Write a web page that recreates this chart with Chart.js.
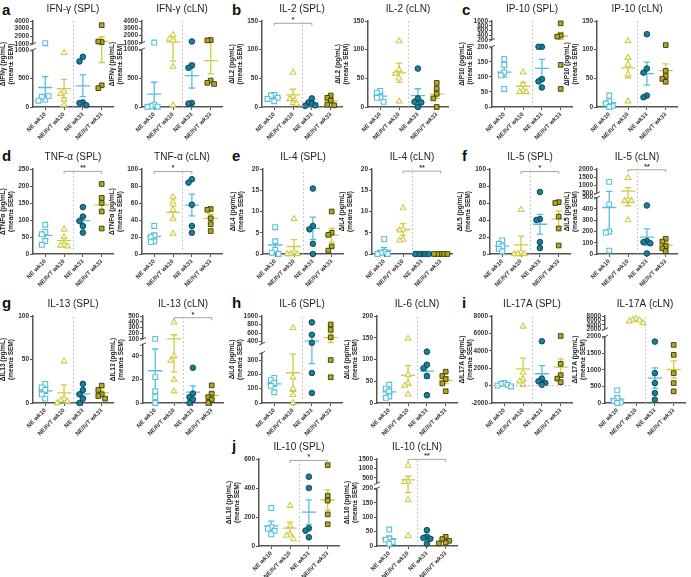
<!DOCTYPE html>
<html>
<head>
<meta charset="utf-8">
<script src="https://cdn.jsdelivr.net/npm/chart.js@4.4.1/dist/chart.umd.min.js"></script>
<style>
  body { margin: 0; background: #fff; width: 691px; height: 577px; position: relative; overflow: hidden;
         font-family: "Liberation Sans", Arial, sans-serif; }
  canvas { position: absolute; }
  .lbl { position: absolute; font-weight: bold; font-size: 15px; color: #111; line-height: 1; }
</style>
</head>
<body>
<div class="lbl" style="left:2px;top:2px">a</div>
<div class="lbl" style="left:232px;top:2px">b</div>
<div class="lbl" style="left:462px;top:2px">c</div>
<div class="lbl" style="left:2px;top:148px">d</div>
<div class="lbl" style="left:232px;top:148px">e</div>
<div class="lbl" style="left:462px;top:148px">f</div>
<div class="lbl" style="left:2px;top:295px">g</div>
<div class="lbl" style="left:232px;top:295px">h</div>
<div class="lbl" style="left:462px;top:295px">i</div>
<div class="lbl" style="left:232px;top:438px">j</div>
<script>
const groups = ["NE wk10", "NE/IVT wk10", "NE wk33", "NE/IVT wk33"];

// values read per group: [NE wk10, NE/IVT wk10, NE wk33, NE/IVT wk33]
const ifngSPL = [[1100, 130, 180, 190, 110], [950, 270, 230, 130, 40], [880, 800, 80, 70, 30], [3450, 1250, 1320, 380, 330]];
const ifngCLN = [[1050, 40, 15, 5, 0], [2100, 1600, 1350, 700, 30], [1200, 720, 680, 70, 60], [1400, 1350, 460, 420, 400]];
const il2SPL = [[21, 20, 16, 14, 10], [60, 18, 14, 7, 6], [15, 8, 6, 3, 2], [20, 16, 11, 4, 3]];
const il2CLN = [[28, 25, 17, 16, 9], [115, 65, 58, 50, 10], [67, 15, 9, 8, 0], [42, 32, 23, 15, 0]];
const ip10SPL = [[160, 140, 115, 105, 60], [115, 75, 55, 50, 50], [200, 200, 92, 85, 65], [900, 390, 340, 140, 60]];
const ip10CLN = [[20, 10, 6, 2, 0], [115, 86, 74, 57, 10], [127, 67, 60, 20, 17], [108, 63, 54, 49, 44]];
const tnfSPL = [[86, 65, 58, 38, 27], [73, 50, 27, 25, 23], [138, 110, 97, 82, 63], [206, 165, 150, 125, 75]];
const tnfCLN = [[33, 22, 20, 15, 14], [67, 61, 52, 41, 24], [88, 84, 58, 33, 25], [53, 52, 42, 35, 27]];
const il4SPL = [[6.3, 3, 1, 0.3, 0], [8.3, 0.5, 0, 0, 0], [15.4, 6.6, 5.8, 2.4, 0], [10, 5, 4.5, 1.8, 0.8]];
const il4CLN = [[3.5, 0.5, 0.3, 0, 0], [10.8, 5.8, 5.6, 3.4, 3.2], [0, 0, 0, 0, 0], [0, 0, 0, 0, 0]];
const il5SPL = [[16, 12, 9, 6, 3], [52, 2, 0, 0, 0], [73, 41, 40, 14, 7], [61, 60, 44, 30, 10]];
const il5CLN = [[1200, 440, 200, 190, 30], [1450, 480, 470, 470, 300], [430, 115, 105, 95, 5], [135, 110, 70, 50, 25]];
const il13SPL = [[22, 18, 15, 10, 5], [48, 5, 3, 2, 0], [22, 15, 10, 5, 0], [20, 15, 10, 8, 5]];
const il13CLN = [[100, 22, 10, 5, 0], [390, 40, 36, 20, 10], [30, 8, 5, 3, 0], [15, 8, 5, 3, 0]];
const il6SPL = [[175, 160, 140, 120, 75], [720, 180, 100, 57, 0], [850, 560, 370, 210, 70], [800, 680, 500, 300, 180]];
const il6CLN = [[42, 33, 27, 15, 12], [148, 65, 45, 40, 20], [118, 88, 80, 62, 18], [72, 62, 55, 45, 27]];
const il17SPL = [[300, 200, 100, 0, -100], [6800, 1500, 700, 500, 100], [5100, 800, 500, 300, 100], [5700, 2500, 1200, 800, 400]];
const il17CLN = [[380, 150, 60, 20, 0], [6800, 6300, 6000, 5600, 4800], [1850, 900, 600, 300, 100], [1750, 1450, 900, 600, 350]];
const il10SPL = [[262, 130, 120, 105, 80], [278, 140, 80, 72, 48], [478, 400, 122, 106, 60], [558, 347, 313, 218, 150]];
const il10CLN = [[57, 26, 22, 14, 8], [1150, 290, 280, 160, 35], [55, 32, 28, 25, 8], [32, 24, 18, 12, 9]];

// y tick labels (lower and upper part for broken axes)
const ticksIFNlow = [0, 500, 1000], ticksIFNhigh = [1000, 2000, 3000, 4000];
const ticksIP10low = [0, 50, 100, 150, 200], ticksIP10high = [200, 400, 600, 800, 1000];
const ticksIL5low = [0, 100, 200, 300, 400, 500], ticksIL5high = [500, 1000, 1500, 2000];
const ticksIL13low = [0, 20, 40], ticksIL13high = [100, 200, 300, 400, 500];
const ticksIL6low = [0, 100, 200, 300], ticksIL6high = [400, 600, 800, 1000];
const ticksIL17low = [0, 500, 1000, 1500, 2000], ticksIL17high = [2000, 4000, 6000, 8000];
const ticksIL10low = [0, 50, 100, 150, 200], ticksIL10high = [500, 1000, 1500];

const rows = [[21, 107], [169, 254], [316, 403], [459, 546]];
const colors = { line: ["#55c0dc", "#cfcd45", "#55c0dc", "#cfcd45"],
  fill: ["#ffffff", "#ffffff", "#16819c", "#b3a91c"],
  border: ["#55c0dc", "#cfcd45", "#0c3a48", "#3a360a"],
  style: ["rect", "triangle", "circle", "rect"], radius: [3.4, 3.3, 2.8, 3.3] };

function lin(min, max) { return [{ from: min, to: max, lo: 0, hi: 1 }]; }
function steps(min, max, st) { const t = []; for (let v = min; v <= max + 1e-9; v += st) t.push(v); return t; }

const panels = [
  { t: "IFN-γ (SPL)", y: "ΔIFNγ (pg/mL)", d: ifngSPL, r: 0, x: 33, segs: [{ from: 0, to: 1000, lo: 0, hi: 0.663 }, { from: 1000, to: 4000, lo: 0.733, hi: 1 }], lo: ticksIFNlow, hi: ticksIFNhigh },
  { t: "IFN-γ (cLN)", y: "ΔIFNγ (pg/mL)", d: ifngCLN, r: 0, x: 142, segs: [{ from: 0, to: 1000, lo: 0, hi: 0.67 }, { from: 1000, to: 4000, lo: 0.745, hi: 1 }], lo: ticksIFNlow, hi: ticksIFNhigh },
  { t: "IL-2 (SPL)", y: "ΔIL2 (pg/mL)", d: il2SPL, r: 0, x: 262, segs: lin(0, 150), lo: steps(0, 150, 50), sig: [1, 3, 146, "*"], zero: true },
  { t: "IL-2 (cLN)", y: "ΔIL2 (pg/mL)", d: il2CLN, r: 0, x: 368, segs: lin(0, 150), lo: steps(0, 150, 50) },
  { t: "IP-10 (SPL)", y: "ΔIP10 (pg/mL)", d: ip10SPL, r: 0, x: 492, segs: [{ from: 0, to: 200, lo: 0, hi: 0.70 }, { from: 200, to: 1000, lo: 0.78, hi: 1 }], lo: ticksIP10low, hi: ticksIP10high },
  { t: "IP-10 (cLN)", y: "ΔIP10 (pg/mL)", d: ip10CLN, r: 0, x: 597, segs: lin(0, 150), lo: steps(0, 150, 50) },
  { t: "TNF-α (SPL)", y: "ΔTNFα (pg/mL)", d: tnfSPL, r: 1, x: 33, segs: lin(0, 250), lo: steps(0, 250, 50), sig: [2, 4, 243, "**"] },
  { t: "TNF-α (cLN)", y: "ΔTNFα (pg/mL)", d: tnfCLN, r: 1, x: 142, segs: lin(0, 100), lo: steps(0, 100, 20), sig: [1, 3, 97, "*"] },
  { t: "IL-4 (SPL)", y: "ΔIL4 (pg/mL)", d: il4SPL, r: 1, x: 263, segs: lin(0, 20), lo: steps(0, 20, 5) },
  { t: "IL-4 (cLN)", y: "ΔIL4 (pg/mL)", d: il4CLN, r: 1, x: 372, segs: lin(0, 20), lo: steps(0, 20, 5), sig: [2, 4, 19.5, "**"] },
  { t: "IL-5 (SPL)", y: "ΔIL5 (pg/mL)", d: il5SPL, r: 1, x: 490, segs: lin(0, 100), lo: steps(0, 100, 20), sig: [2, 4, 97, "*"] },
  { t: "IL-5 (cLN)", y: "ΔIL5 (pg/mL)", d: il5CLN, r: 1, x: 597, segs: [{ from: 0, to: 500, lo: 0, hi: 0.664 }, { from: 500, to: 2000, lo: 0.715, hi: 1 }], lo: ticksIL5low, hi: ticksIL5high, sig: [2, 4, 1950, "**"] },
  { t: "IL-13 (SPL)", y: "ΔIL13 (pg/mL)", d: il13SPL, r: 2, x: 33, segs: lin(0, 100), lo: [0, 50, 100] },
  { t: "IL-13 (cLN)", y: "ΔIL13 (pg/mL)", d: il13CLN, r: 2, x: 143, segs: [{ from: 0, to: 50, lo: 0, hi: 0.676 }, { from: 100, to: 500, lo: 0.737, hi: 1 }], lo: ticksIL13low, hi: ticksIL13high, sig: [2, 4, 470, "*"] },
  { t: "IL-6 (SPL)", y: "ΔIL6 (pg/mL)", d: il6SPL, r: 2, x: 262, segs: [{ from: 0, to: 350, lo: 0, hi: 0.576 }, { from: 350, to: 1000, lo: 0.682, hi: 1 }], lo: ticksIL6low, hi: ticksIL6high },
  { t: "IL-6 (cLN)", y: "ΔIL6 (pg/mL)", d: il6CLN, r: 2, x: 377, segs: lin(0, 200), lo: steps(0, 200, 50) },
  { t: "IL-17A (SPL)", y: "ΔIL17A (pg/mL)", d: il17SPL, r: 2, x: 492, segs: lin(-2000, 8000), lo: steps(-2000, 8000, 2000), zero: true },
  { t: "IL-17A (cLN)", y: "ΔIL17A (pg/mL)", d: il17CLN, r: 2, x: 605, segs: [{ from: 0, to: 2000, lo: 0, hi: 0.763 }, { from: 2000, to: 8000, lo: 0.849, hi: 1 }], lo: ticksIL17low, hi: ticksIL17high },
  { t: "IL-10 (SPL)", y: "ΔIL10 (pg/mL)", d: il10SPL, r: 3, x: 259, segs: lin(0, 600), lo: steps(0, 600, 200), sig: [2, 4, 590, "*"] },
  { t: "IL-10 (cLN)", y: "ΔIL10 (pg/mL)", d: il10CLN, r: 3, x: 377, segs: [{ from: 0, to: 200, lo: 0, hi: 0.663 }, { from: 200, to: 1500, lo: 0.72, hi: 1 }], lo: ticksIL10low, hi: ticksIL10high, sig: [2, 4, 1480, "**"] }
];

const XMIN = 0.35, XMAX = 4.6, YW = 33, PW = 80;

function segFrac(segs, v) {
  let s = segs[0];
  for (let i = 1; i < segs.length; i++) if (v > segs[i - 1].to) s = segs[i];
  return s.lo + (v - s.from) / (s.to - s.from) * (s.hi - s.lo);
}

class BrokenScale extends Chart.LinearScale {
  getPixelForValue(v) {
    if (v === null || v === undefined || isNaN(v)) return NaN;
    return this.getPixelForDecimal(segFrac(this.chart.canvas.panel.segs, v));
  }
}
BrokenScale.id = "broken";
BrokenScale.defaults = Chart.LinearScale.defaults;
Chart.register(BrokenScale);

function meanSem(vals) {
  const n = vals.length, m = vals.reduce((a, b) => a + b, 0) / n;
  const sd = Math.sqrt(vals.reduce((a, b) => a + (b - m) ** 2, 0) / (n - 1));
  return [m, sd / Math.sqrt(n)];
}

// spread points with similar values sideways, like a column scatter
function spread(vals, segs) {
  const placed = [];
  const offs = [0, -0.18, 0.18, -0.36, 0.36, -0.54, 0.54];
  return vals.map(v => {
    const f = segFrac(segs, v);
    for (const o of offs) {
      if (!placed.some(p => Math.abs(p.f - f) < 0.055 && Math.abs(p.o - o) < 0.16)) {
        placed.push({ f, o });
        return o;
      }
    }
    return 0;
  });
}

const deco = {
  id: "deco",
  afterDraw(chart) {
    const p = chart.canvas.panel, ctx = chart.ctx, xs = chart.scales.x, ys = chart.scales.y;
    ctx.save();
    // axis breaks
    for (let i = 0; i + 1 < p.segs.length; i++) {
      const y1 = ys.getPixelForDecimal(p.segs[i].hi), y2 = ys.getPixelForDecimal(p.segs[i + 1].lo);
      const x = ys.right;
      ctx.fillStyle = "#fff";
      ctx.fillRect(x - 3, y2 + 0.5, 6, y1 - y2 - 1);
      ctx.strokeStyle = "#555";
      ctx.lineWidth = 1;
      [y1, y2].forEach(y => {
        ctx.beginPath(); ctx.moveTo(x - 3, y + 1.5); ctx.lineTo(x + 3, y - 1.5); ctx.stroke();
      });
    }
    // significance bracket
    if (p.sig) {
      const [a, b, v, txt] = p.sig;
      const x1 = xs.getPixelForValue(a), x2 = xs.getPixelForValue(b), y = ys.getPixelForValue(v);
      ctx.strokeStyle = "#999";
      ctx.lineWidth = 0.9;
      ctx.beginPath();
      ctx.moveTo(x1, y + 2.5); ctx.lineTo(x1, y); ctx.lineTo(x2, y); ctx.lineTo(x2, y + 2.5);
      ctx.stroke();
      ctx.fillStyle = "#333";
      ctx.font = "bold 7px 'Liberation Sans', Arial";
      ctx.textAlign = "center";
      ctx.textBaseline = "bottom";
      ctx.fillText(txt, (x1 + x2) / 2, y + 0.5);
    }
    ctx.restore();
  }
};

panels.forEach(p => {
  const [top, bottom] = rows[p.r];
  const cv = document.createElement("canvas");
  const H = 22 + (bottom - top) + 34, W = YW + PW + 8;
  cv.width = W; cv.height = H;
  cv.style.left = (p.x - YW) + "px";
  cv.style.top = (top - 22) + "px";
  cv.panel = p;
  document.body.appendChild(cv);

  const ymin = p.segs[0].from, ymax = p.segs[p.segs.length - 1].to;
  const lowTo = p.segs[0].to;
  const tickVals = p.lo.concat((p.hi || []).map(v => (v <= lowTo ? v + 1e-6 : v)));

  const datasets = [{
    type: "line", data: [{ x: 2.5, y: ymin }, { x: 2.5, y: ymax }],
    borderColor: "#bbbbbb", borderDash: [2, 2], borderWidth: 0.8, pointRadius: 0
  }];
  if (p.zero) {
    datasets.push({ type: "line", data: [{ x: XMIN, y: 0 }, { x: XMAX, y: 0 }],
      borderColor: "#aaaaaa", borderDash: [2, 2], borderWidth: 0.8, pointRadius: 0 });
  }
  p.d.forEach((vals, g) => {
    const offs = spread(vals, p.segs);
    datasets.push({
      data: vals.map((v, i) => ({ x: g + 1 + offs[i], y: v })),
      pointStyle: colors.style[g], pointRadius: colors.radius[g],
      backgroundColor: colors.fill[g], borderColor: colors.border[g],
      borderWidth: g < 2 ? 1.1 : 0.9, clip: false
    });
  });
  p.d.forEach((vals, g) => {
    const [m, s] = meanSem(vals), c = g + 1;
    datasets.push({
      type: "line", clip: false, spanGaps: false, pointRadius: 0,
      borderColor: colors.line[g], borderWidth: 1.3,
      data: [{ x: c - 0.38, y: m }, { x: c + 0.38, y: m }, { x: c, y: null },
             { x: c, y: m - s }, { x: c, y: m + s }, { x: c, y: null },
             { x: c - 0.17, y: m + s }, { x: c + 0.17, y: m + s }, { x: c, y: null },
             { x: c - 0.17, y: m - s }, { x: c + 0.17, y: m - s }]
    });
  });

  new Chart(cv, {
    type: "scatter",
    data: { datasets },
    plugins: [deco],
    options: {
      responsive: false, animation: false, devicePixelRatio: 1,
      layout: { padding: { right: 8 } },
      plugins: {
        legend: { display: false }, tooltip: { enabled: false },
        title: { display: true, text: p.t, fullSize: false, color: "#222",
                 font: { size: 10, weight: "normal" }, padding: { top: 4, bottom: 6 } }
      },
      scales: {
        x: {
          type: "linear", min: XMIN, max: XMAX,
          afterBuildTicks: s => { s.ticks = [1, 2, 3, 4].map(v => ({ value: v })); },
          afterFit: s => { s.height = 34; },
          ticks: { autoSkip: false, minRotation: 45, maxRotation: 45, padding: 1, color: "#333",
                   font: { size: 6, weight: "bold" }, callback: (v, i) => groups[i] },
          grid: { drawOnChartArea: false, tickLength: 3, color: "#555", lineWidth: 1 },
          border: { color: "#555", width: 1.5 }
        },
        y: {
          type: "broken", min: ymin, max: ymax,
          afterBuildTicks: s => { s.ticks = tickVals.map(v => ({ value: v })); },
          afterFit: s => { s.width = YW; },
          ticks: { autoSkip: false, padding: 1, color: "#333", font: { size: 6.5, weight: "bold" },
                   callback: v => String(Math.round(v)) },
          grid: { drawOnChartArea: false, tickLength: 3, color: "#555", lineWidth: 1 },
          border: { color: "#555", width: 1.5 },
          title: { display: true, text: [p.y, "(mean± SEM)"], color: "#222",
                   font: { size: 6.5, weight: "bold", lineHeight: 1.1 }, padding: { top: 0, bottom: 0 } }
        }
      }
    }
  });
});
</script>
</body>
</html>
